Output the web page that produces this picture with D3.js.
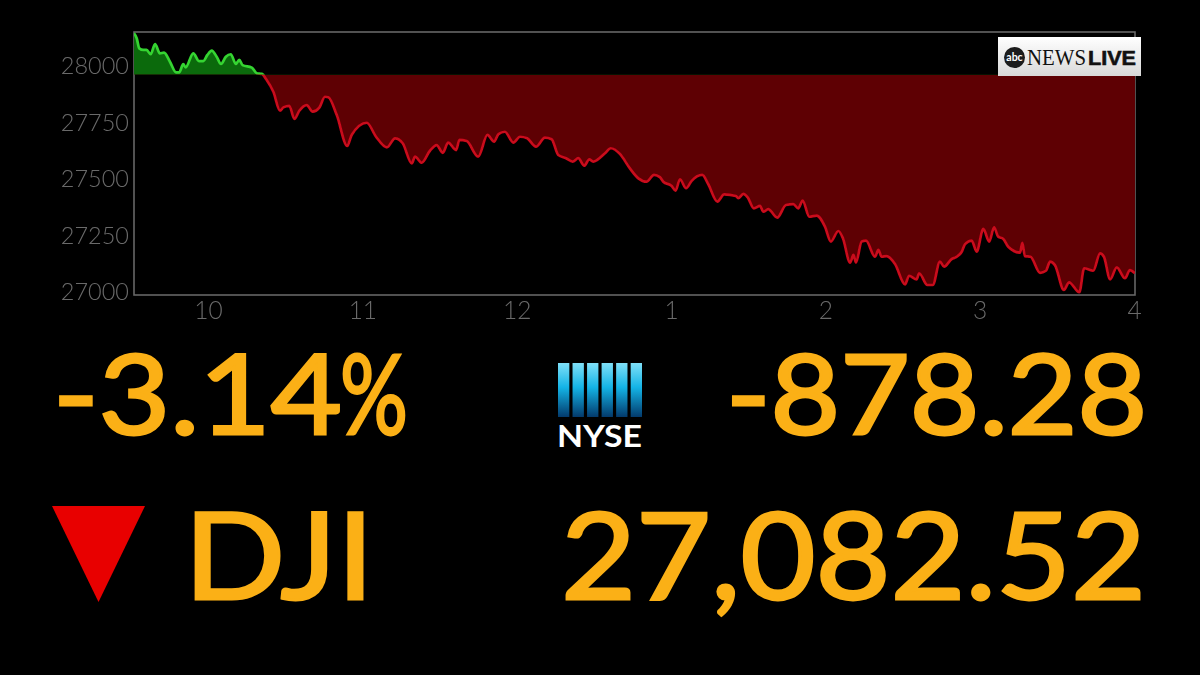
<!DOCTYPE html>
<html><head><meta charset="utf-8">
<script src="https://cdn.jsdelivr.net/npm/d3@7"></script>
<style>html,body{margin:0;background:#000}svg{display:block}</style>
</head><body><svg id="c" width="1200" height="675"></svg>
<script>
const minutes=[0,1.05,2.06,3.6,4.9,6.5,8.2,10.1,11.7,14,16.4,17.6,19.2,20.1,23.1,25.3,27,28.6,30.3,32.2,33.9,35.8,37.7,39.7,41,42.3,45.9,47.8,49.8,51.7,54.3,56.9,58.2,60.5,62.5,64.4,67.3,69.6,72.2,74.4,75.7,79,83.1,84.8,90.7,94.3,98.5,101.7,104.7,108.2,109.5,112.1,115.3,117.9,120.3,122.4,125.5,126.8,129.6,134.1,137.7,140.3,142,144.5,147.8,150.4,153.2,156.6,160.1,162.7,165.3,168.3,170.9,173.1,175.4,177.4,178.9,183.5,185.8,189.3,193.2,196.5,199.7,202.6,204.9,206.2,209.5,211,212.7,215.1,217.3,221.4,223.7,227.3,229.9,234.5,235.4,237.4,239.1,241.5,243.9,245.2,247.1,250.6,254,256.9,258.8,260.5,263.1,266,269.2,271.5,274.4,276.2,279,280.3,281.3,283.5,285.2,288.7,290,291.3,293.2,296.5,300.4,302,304.9,305.9,309.1,311.2,314,315.6,318.6,320.3,322.5,323.8,326.4,328.3,330.9,333.2,335.1,336.7,338.7,340.6,345.2,346.1,347.1,349.3,353,355.3,356.9,358.8,362.3,364.3,368.3,370.2,373.7,376.4,377.9,380.3,382.9,386.1,388,390];
const prices=[28145,28123,28078,28071,28071,28052,28097,28056,28059,28019,27972,27972,28008,27994,28056,28022,28022,28049,28068,28041,28009,28041,28052,28009,28027,28004,27993,27968,27965,27938,27886,27802,27817,27824,27766,27802,27827,27798,27816,27864,27862,27783,27646,27695,27749,27687,27640,27680,27658,27569,27599,27572,27625,27650,27616,27661,27628,27673,27668,27599,27695,27665,27699,27709,27661,27687,27680,27643,27683,27676,27606,27592,27577,27592,27559,27587,27577,27614,27636,27611,27547,27503,27488,27518,27508,27488,27469,27448,27499,27459,27492,27518,27478,27400,27432,27425,27415,27434,27419,27370,27381,27355,27367,27329,27385,27389,27370,27404,27333,27338,27289,27223,27270,27238,27130,27164,27130,27223,27227,27156,27186,27156,27159,27124,27034,27072,27056,27083,27031,27031,27134,27112,27146,27154,27178,27212,27227,27178,27279,27223,27286,27245,27235,27200,27174,27218,27159,27156,27085,27094,27134,27119,27009,27043,26999,27105,27094,27171,27156,27056,27109,27061,27097,27082.52];
const prevClose=27960.8;
const yTicks=[27000,27250,27500,27750,28000];
const hourTicks=[10,11,12,13,14,15,16];
const pctNum="-3.14", pctSign="%", chgText="-878.28", indexName="DJI", lastText="27,082.52", exchange="NYSE";
const barStops=[0,1,2,3,4,5];

const svg=d3.select("#c");
svg.append("rect").attr("width",1200).attr("height",675).attr("fill","#000");
const x=d3.scaleLinear().domain([0,390]).range([134,1135]);
const y=d3.scaleLinear().domain([27000,28000]).range([292,66]);
const hx=d3.scaleLinear().domain([10,16]).range([208,1134]);
const plotTop=32,plotBot=295;
const pts=minutes.map((m,i)=>({m,v:prices[i]}));
const defs=svg.append("defs");
defs.append("filter").attr("id","soft").attr("x","-5%").attr("y","-5%").attr("width","110%").attr("height","110%").append("feGaussianBlur").attr("stdDeviation",0.45);
defs.append("clipPath").attr("id","up").append("rect").attr("x",134).attr("y",plotTop-2).attr("width",1001).attr("height",y(prevClose)-plotTop+2);
defs.append("clipPath").attr("id","dn").append("rect").attr("x",134).attr("y",y(prevClose)).attr("width",1001).attr("height",plotBot-y(prevClose));
const curve=d3.curveMonotoneX;
const area=d3.area().x(d=>x(d.m)).y0(y(prevClose)).y1(d=>y(d.v)).curve(curve);
const line=d3.line().x(d=>x(d.m)).y(d=>y(d.v)).curve(curve);
svg.append("rect").attr("x",134).attr("y",plotTop).attr("width",1001).attr("height",plotBot-plotTop).attr("fill","none").attr("stroke","#666").attr("stroke-width",1.6);
[["up","#0b6a0c","#35d430"],["dn","#5e0003","#c8081a"]].forEach(([id,f,s])=>{
  const g=svg.append("g").attr("clip-path",`url(#${id})`);
  g.append("path").attr("d",area(pts)).attr("fill",f);
  g.append("path").attr("d",line(pts)).attr("fill","none").attr("stroke",s).attr("stroke-width",2.7).attr("stroke-linejoin","round").attr("filter","url(#soft)");
});

const font="Lato, sans-serif";
const yAxis=d3.axisLeft(y).tickValues(yTicks).tickSize(0).tickPadding(5).tickFormat(d3.format("d"));
const ya=svg.append("g").attr("transform","translate(134,0)").attr("opacity",0.999).call(yAxis);
ya.select(".domain").remove();
ya.selectAll("text").attr("fill","#6a6a6a").attr("font-family",font).attr("font-weight",300).attr("font-size",23.5);
const xAxis=d3.axisBottom(hx).tickValues(hourTicks).tickSize(0).tickPadding(7).tickFormat(h=>h>12?h-12:h);
const xa=svg.append("g").attr("transform",`translate(0,${plotBot})`).attr("opacity",0.999).call(xAxis);
xa.select(".domain").remove();
xa.selectAll("text").attr("fill","#6a6a6a").attr("font-family",font).attr("font-weight",300).attr("font-size",24.5);

const gold="#fbb016";
function big(t,px,py,size,len){svg.append("text").text(t).attr("x",px).attr("y",py).attr("font-family",font).attr("font-size",size).attr("fill",gold).attr("stroke",gold).attr("stroke-width",2.8).attr("textLength",len).attr("lengthAdjust","spacingAndGlyphs");}
big(pctNum,53,434,110,289);
svg.append("text").text(pctSign).attr("transform","translate(340,434) scale(0.77,1)").attr("font-family",font).attr("font-size",110).attr("fill",gold).attr("stroke",gold).attr("stroke-width",2.8);
big(chgText,726,434,110,421);
big(indexName,184,599,120,190);
big(lastText,561,599,120,585);

const tri=d3.scaleLinear().domain([0,1]).range([52,145]);
svg.append("path").attr("d",d3.line()([[tri(0),506],[tri(1),506],[tri(.5),602]])+"Z").attr("fill","#e80000");

const grad=defs.append("linearGradient").attr("id","nyse").attr("x1",0).attr("x2",0).attr("y1",0).attr("y2",1);
[[0,"#7fe0f8"],[.45,"#14b4e6"],[1,"#033a6c"]].forEach(([o,c])=>grad.append("stop").attr("offset",o).attr("stop-color",c));
const bx=d3.scaleBand().domain(barStops).range([558,642]).paddingInner(.22);
svg.selectAll("rect.b").data(barStops).join("rect").attr("class","b").attr("x",d=>bx(d)).attr("y",363).attr("width",bx.bandwidth()).attr("height",54).attr("fill","url(#nyse)");
svg.append("text").text(exchange).attr("x",557).attr("y",447).attr("font-family","Lato,sans-serif").attr("font-weight",700).attr("font-size",31).attr("textLength",85).attr("lengthAdjust","spacingAndGlyphs").attr("fill","#fff");

const lg=defs.append("linearGradient").attr("id","logo").attr("x1",0).attr("x2",0).attr("y1",0).attr("y2",1);
[[0,"#ffffff"],[1,"#d9d9d9"]].forEach(([o,c])=>lg.append("stop").attr("offset",o).attr("stop-color",c));
svg.append("rect").attr("x",998).attr("y",37).attr("width",143).attr("height",39).attr("fill","url(#logo)");
svg.append("circle").attr("cx",1014.5).attr("cy",57.5).attr("r",10.5).attr("fill","#1c1c1c");
svg.append("text").text("abc").attr("x",1014.5).attr("y",61).attr("text-anchor","middle").attr("font-family","Lato,sans-serif").attr("font-weight",700).attr("font-size",10.5).attr("fill","#fff");
svg.append("text").text("NEWS").attr("x",1027).attr("y",65).attr("font-family","'Liberation Serif',serif").attr("font-size",23).attr("textLength",59).attr("lengthAdjust","spacingAndGlyphs").attr("fill","#111");
svg.append("text").text("LIVE").attr("x",1088).attr("y",65).attr("font-family","'Liberation Sans',sans-serif").attr("font-weight",700).attr("font-size",21).attr("textLength",48).attr("lengthAdjust","spacingAndGlyphs").attr("fill","#111").attr("stroke","#111").attr("stroke-width",0.6);
</script></body></html>
